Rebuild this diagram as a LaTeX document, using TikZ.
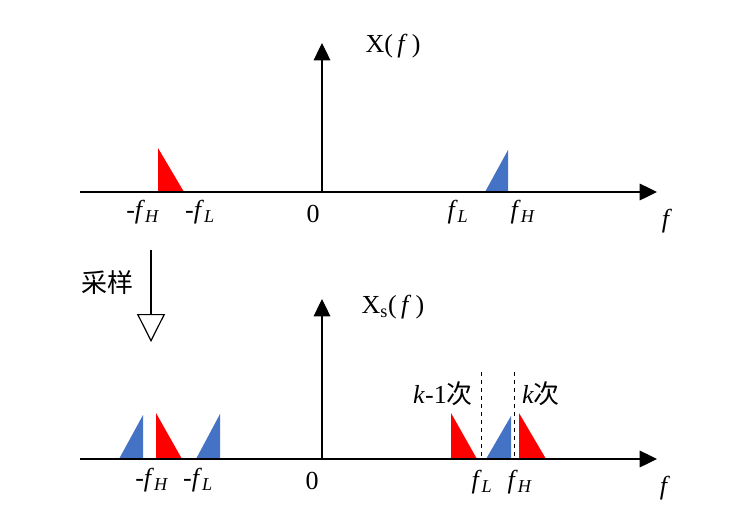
\documentclass[tikz,border=0pt]{standalone}
\usepackage{fontspec}
\setmainfont{Liberation Serif}
\newfontfamily\cjk{Noto Sans CJK SC}
\usetikzlibrary{arrows.meta}
\definecolor{spred}{HTML}{FF0000}
\definecolor{spblue}{HTML}{4472C4}
\begin{document}
\begin{tikzpicture}[x=0.75pt,y=-0.75pt,
  axis/.style={line width=0.9pt,-{Triangle[length=13pt,width=12.5pt]}},
  lbl/.style={font=\fontsize{19.5}{22}\selectfont,inner sep=0pt},
  redtri/.style={fill=spred},
  bluetri/.style={fill=spblue},
  divline/.style={dashed,line width=0.6pt},
  samparrow/.style={line width=0.9pt,-{Triangle[open,length=21pt,width=21pt,line width=0.9pt]}}]
\useasboundingbox (0,0) rectangle (755,525);
% top spectrum
\coordinate (x1s) at (80,192);
\coordinate (x1e) at (657,192);
\coordinate (o1) at (322,192);
\coordinate (y1e) at (322,43);
\fill[redtri] (158,192) -- (158,148) -- (184,192) -- cycle;
\fill[bluetri] (485,192) -- (508,150) -- (508,192) -- cycle;
\draw[axis] (x1s) -- (x1e);
\draw[axis] (o1) -- (y1e);
\node[lbl] (t1) at (393,46) {X(\,\textit{f}\,)};
\node[lbl] (a1) at (143,212) {-\textit{f}\textsubscript{\textit{H}}};
\node[lbl] (a2) at (200,212) {-\textit{f}\textsubscript{\textit{L}}};
\node[lbl] (a3) at (313,214) {0};
\node[lbl] (a4) at (458,212) {\textit{f}\textsubscript{\textit{L}}};
\node[lbl] (a5) at (523,212) {\textit{f}\textsubscript{\textit{H}}};
\node[lbl] (a6) at (667,221) {\textit{f}};
% sampling arrow
\coordinate (s1) at (151,250);
\coordinate (s2) at (151,342);
\draw[samparrow] (s1) -- (s2);
\node[lbl] (sl) at (107,283) {\cjk 采样};
% bottom spectrum
\coordinate (x2s) at (80,459);
\coordinate (x2e) at (657,459);
\coordinate (o2) at (322,459);
\coordinate (y2e) at (322,299);
\fill[bluetri] (119,459) -- (143,415) -- (143,459) -- cycle;
\fill[redtri] (156,459) -- (156,413) -- (182,459) -- cycle;
\fill[bluetri] (196,459) -- (220,414) -- (220,459) -- cycle;
\fill[redtri] (451,459) -- (451,413) -- (477,459) -- cycle;
\fill[bluetri] (486,459) -- (511,416) -- (511,459) -- cycle;
\fill[redtri] (519,459) -- (519,413) -- (546,459) -- cycle;
\coordinate (d1t) at (481,372);
\coordinate (d1b) at (481,459);
\coordinate (d2t) at (514,372);
\coordinate (d2b) at (514,459);
\draw[divline] (d1t) -- (d1b);
\draw[divline] (d2t) -- (d2b);
\draw[axis] (x2s) -- (x2e);
\draw[axis] (o2) -- (y2e);
\node[lbl] (t2) at (393,307) {X\textsubscript{s}(\,\textit{f}\,)};
\node[lbl] (b1) at (152,480) {-\textit{f}\textsubscript{\textit{H}}};
\node[lbl] (b2) at (198,480) {-\textit{f}\textsubscript{\textit{L}}};
\node[lbl] (b3) at (312,481) {0};
\node[lbl] (b4) at (482,482) {\textit{f}\textsubscript{\textit{L}}};
\node[lbl] (b5) at (520,482) {\textit{f}\textsubscript{\textit{H}}};
\node[lbl] (b6) at (665,488) {\textit{f}};
\node[lbl] (k1) at (443,394) {\textit{k}-1{\cjk 次}};
\node[lbl] (k2) at (541,394) {\textit{k}{\cjk 次}};
\end{tikzpicture}
\end{document}
